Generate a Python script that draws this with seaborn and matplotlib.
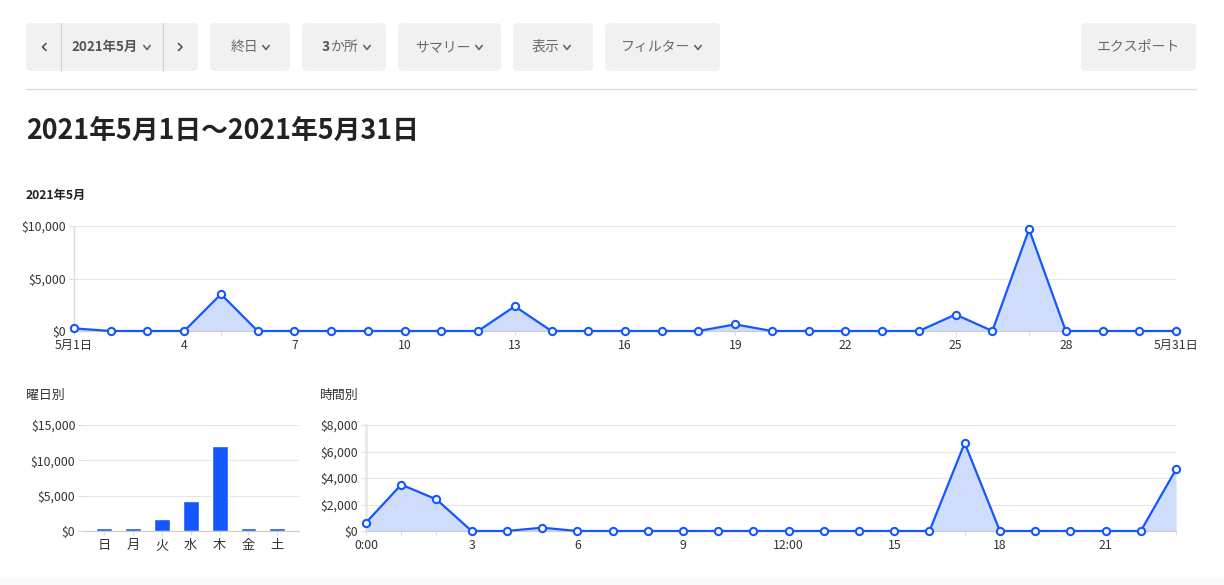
import matplotlib
matplotlib.use("Agg")
import matplotlib.pyplot as plt
from matplotlib.patches import FancyBboxPatch, Rectangle
from matplotlib.lines import Line2D
import seaborn as sns

# ---------------- data ----------------
days = list(range(1, 32))
daily_sales = [250, 0, 0, 0, 3510, 0, 0, 0, 0, 0, 0, 0, 2350, 0, 0, 0, 0, 0,
               630, 0, 0, 0, 0, 0, 1570, 0, 9690, 0, 0, 0, 0]
day_ticks = [1, 4, 7, 10, 13, 16, 19, 22, 25, 28, 31]
day_tick_labels = ["5月1日", "4", "7", "10", "13", "16", "19", "22", "25", "28", "5月31日"]
daily_yticks = [0, 5000, 10000]
daily_ytick_labels = ["$0", "$5,000", "$10,000"]

weekdays = ["日", "月", "火", "水", "木", "金", "土"]
weekday_sales = [400, 400, 1650, 4190, 12080, 400, 400]
weekday_yticks = [0, 5000, 10000, 15000]
weekday_ytick_labels = ["$0", "$5,000", "$10,000", "$15,000"]

hours = list(range(24))
hourly_sales = [630, 3500, 2390, 0, 0, 250, 0, 0, 0, 0, 0, 0,
                0, 0, 0, 0, 0, 6640, 0, 0, 0, 0, 0, 4650]
hour_ticks = [0, 3, 6, 9, 12, 15, 18, 21]
hour_tick_labels = ["0:00", "3", "6", "9", "12:00", "15", "18", "21"]
hourly_yticks = [0, 2000, 4000, 6000, 8000]
hourly_ytick_labels = ["$0", "$2,000", "$4,000", "$6,000", "$8,000"]

title = "2021年5月1日～2021年5月31日"
buttons = ["終日", "サマリー", "表示", "フィルター"]

# ---------------- style ----------------
sns.set_theme(style="white")
plt.rcParams["font.family"] = ["Noto Sans CJK JP", "DejaVu Sans"]

W, H = 1224, 585
fig = plt.figure(figsize=(W / 100, H / 100), dpi=100)
fig.patch.set_facecolor("white")

BLUE = "#1457ff"
FILL = "#cfdcfb"
GRID = "#e6e6e6"
TXT = "#333333"


def fx(x):
    return x / W


def fy(y):
    return 1 - y / H


def axes_px(x0, x1, ytop, ybot):
    return fig.add_axes([fx(x0), fy(ybot), (x1 - x0) / W, (ybot - ytop) / H])


def style_axes(ax, left_spine=True):
    for s in ["top", "right"]:
        ax.spines[s].set_visible(False)
    ax.spines["left"].set_visible(left_spine)
    ax.spines["left"].set_color("#dddddd")
    ax.spines["left"].set_linewidth(1.0)
    ax.spines["bottom"].set_color("#cccccc")
    ax.spines["bottom"].set_linewidth(0.8)
    ax.grid(axis="y", color=GRID, linewidth=0.8)
    ax.grid(axis="x", visible=False)
    ax.set_axisbelow(True)
    ax.tick_params(axis="y", length=3.5, width=0.8, color="#dddddd", pad=2,
                   labelsize=8.8, labelcolor=TXT, left=True)
    ax.tick_params(axis="x", length=3, width=0.8, color="#dddddd", pad=3,
                   labelsize=8.8, labelcolor=TXT, bottom=True)
    ax.set_xlabel("")
    ax.set_ylabel("")
    ax.set_facecolor("white")


def line_area(ax, xs, ys):
    ax.fill_between(xs, ys, 0, color=FILL, linewidth=0, zorder=2)
    sns.lineplot(x=xs, y=ys, ax=ax, color=BLUE, linewidth=1.6, marker="o",
                 markersize=5.2, markerfacecolor="white", markeredgecolor=BLUE,
                 markeredgewidth=1.5, errorbar=None, clip_on=False, zorder=5)


# ---------------- header UI ----------------
def button(x0, x1, y0=23, y1=71):
    p = FancyBboxPatch(((x0) / 100, (H - y1) / 100), (x1 - x0) / 100, (y1 - y0) / 100,
                       boxstyle="round,pad=0,rounding_size=0.05",
                       transform=fig.dpi_scale_trans, facecolor="#f1f1f1",
                       edgecolor="none", zorder=0)
    fig.add_artist(p)


def chevron(cx, cy=47.5, w=3.2, h=2.0, color="#666666"):
    fig.add_artist(Line2D([fx(cx - w), fx(cx), fx(cx + w)],
                          [fy(cy - h), fy(cy + h), fy(cy - h)],
                          transform=fig.transFigure, color=color, linewidth=1.2,
                          solid_capstyle="round", solid_joinstyle="round"))


button(26, 198)
for xd in (61, 163):
    fig.add_artist(Line2D([fx(xd), fx(xd)], [fy(23), fy(71)], transform=fig.transFigure,
                          color="#d4d4d4", linewidth=0.8))
# < and >
fig.add_artist(Line2D([fx(46), fx(42.5), fx(46)], [fy(43.5), fy(47), fy(50.5)],
                      transform=fig.transFigure, color="#555555", linewidth=1.2,
                      solid_joinstyle="round", solid_capstyle="round"))
fig.add_artist(Line2D([fx(178.5), fx(182), fx(178.5)], [fy(43.5), fy(47), fy(50.5)],
                      transform=fig.transFigure, color="#555555", linewidth=1.2,
                      solid_joinstyle="round", solid_capstyle="round"))
fig.text(fx(71), fy(47), "2021年5月", ha="left", va="center", fontsize=9.6,
         fontweight="bold", color="#555555")
chevron(147)

btn_boxes = [(210, 290), (398, 501), (513, 593), (605, 720)]
chev_x = [266, 479, 567, 698]
for (x0, x1), label, cx in zip(btn_boxes, buttons, chev_x):
    button(x0, x1)
    fig.text(fx(cx - 8), fy(47), label, ha="right", va="center", fontsize=10,
             color="#6a6a6a")
    chevron(cx)

# "3か所" button
button(302, 386)
fig.text(fx(322), fy(47), "3", ha="left", va="center", fontsize=10,
         fontweight="bold", color="#555555")
fig.text(fx(330.5), fy(47), "か所", ha="left", va="center", fontsize=10,
         color="#6a6a6a")
chevron(367)

button(1081, 1196)
fig.text(fx(1138.5), fy(47), "エクスポート", ha="center", va="center", fontsize=10,
         color="#6a6a6a")

fig.add_artist(Line2D([fx(26), fx(1196)], [fy(89), fy(89)], transform=fig.transFigure,
                      color="#dddddd", linewidth=1.0))

fig.text(fx(26), fy(131), title, ha="left", va="center", fontsize=19.3,
         fontweight="bold", color="#222222")
fig.text(fx(26), fy(195), "2021年5月", ha="left", va="center", fontsize=8.8,
         fontweight="bold", color="#222222")
fig.text(fx(26), fy(395), "曜日別", ha="left", va="center", fontsize=9.3, color=TXT)
fig.text(fx(319), fy(395), "時間別", ha="left", va="center", fontsize=9.3, color=TXT)

# bottom faint band
fig.add_artist(Rectangle((0, 0), 1, 8 / H, transform=fig.transFigure,
                         facecolor="#fafafa", edgecolor="none", zorder=0))

# ---------------- daily chart ----------------
ax1 = axes_px(74, 1176, 226, 331)
line_area(ax1, days, daily_sales)
ax1.set_xlim(1, 31)
ax1.set_ylim(0, 10000)
ax1.set_xticks(day_ticks)
ax1.set_xticklabels(day_tick_labels)
ax1.set_xticks(days, minor=True)
ax1.set_yticks(daily_yticks)
ax1.set_yticklabels(daily_ytick_labels)
style_axes(ax1)
ax1.tick_params(axis="x", which="minor", length=3, width=0.8, color="#dddddd", bottom=True)

# ---------------- weekday chart ----------------
ax2 = axes_px(83, 299, 425, 531)
sns.barplot(x=weekdays, y=weekday_sales, order=weekdays, color=BLUE, saturation=1,
            width=0.55, ax=ax2, zorder=3)
ax2.set_xlim(-0.73, 6.75)
ax2.set_ylim(0, 15000)
ax2.set_yticks(weekday_yticks)
ax2.set_yticklabels(weekday_ytick_labels)
style_axes(ax2, left_spine=False)
ax2.tick_params(axis="x", length=3, labelsize=9.5)

# ---------------- hourly chart ----------------
ax3 = axes_px(366, 1176, 425, 531)
line_area(ax3, hours, hourly_sales)
ax3.set_xlim(0, 23)
ax3.set_ylim(0, 8000)
ax3.set_xticks(hour_ticks)
ax3.set_xticklabels(hour_tick_labels)
ax3.set_xticks(hours, minor=True)
ax3.set_yticks(hourly_yticks)
ax3.set_yticklabels(hourly_ytick_labels)
style_axes(ax3)
ax3.spines["left"].set_linewidth(1.8)
ax3.spines["left"].set_color("#e6e6e6")
ax3.tick_params(axis="x", which="minor", length=3, width=0.8, color="#dddddd", bottom=True)

fig.savefig("out.png", dpi=100, facecolor="white")
